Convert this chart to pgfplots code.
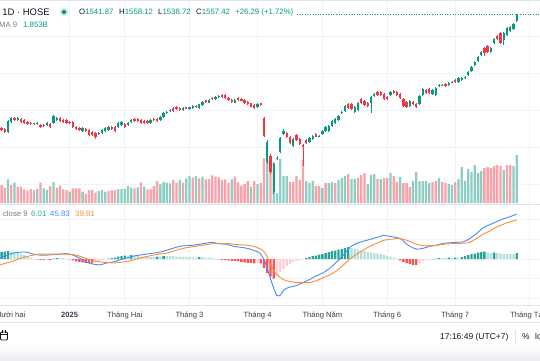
\documentclass[border=0pt]{standalone}
\usepackage{pgfplots}
\pgfplotsset{compat=1.18}
\usepackage{pgfplotstable}
\usepackage{fontspec}
\setmainfont{Liberation Sans}
\definecolor{tvgreen}{RGB}{8,153,129}
\definecolor{tvred}{RGB}{242,54,69}
\definecolor{volg}{RGB}{140,206,195}
\definecolor{volr}{RGB}{248,162,170}
\definecolor{hdg}{RGB}{38,166,154}
\definecolor{hlg}{RGB}{178,223,219}
\definecolor{hlr}{RGB}{255,205,210}
\definecolor{hdr}{RGB}{255,82,82}
\definecolor{macdb}{RGB}{66,142,245}
\definecolor{sigo}{RGB}{255,140,50}
\definecolor{tvgrid}{RGB}{240,243,250}
\definecolor{tvtext}{RGB}{19,23,34}
\definecolor{tvgray}{RGB}{120,123,134}
\definecolor{tvlab}{RGB}{60,63,74}
\definecolor{tvsep}{RGB}{224,227,235}
\pgfplotstableread{
i O H L C V vd h hc
0 1251 1254 1244 1246 18 0 7 0
1 1249 1251 1239 1241 15.3 0 7.5 0
2 1241 1272 1238 1270 23.7 1 8 0
3 1268 1280 1266 1278 18 0 7.5 1
4 1278 1280 1271 1273 20.3 1 7 1
5 1273 1280 1271 1278 16.3 0 6 1
6 1276 1278 1266 1268 16.3 0 5 1
7 1273 1275 1263 1265 13.7 0 4 1
8 1267 1269 1260 1262 12.3 0 3 1
9 1265 1267 1260 1262 14 0 1.5 1
10 1264 1266 1260 1262 13 0 0.5 1
11 1262 1268 1260 1266 14 1 -0.5 3
12 1259 1261 1252 1254 20.3 0 -1 3
13 1259 1261 1254 1256 14.7 1 -1 3
14 1259 1267 1257 1265 13 1 -0.5 2
15 1262 1264 1252 1254 17 0 -1 3
16 1265 1287 1263 1284 21 1 0.5 0
17 1273 1280 1271 1278 15.3 0 1 0
18 1278 1280 1268 1270 17.3 0 1 1
19 1273 1275 1266 1268 13.7 0 1 1
20 1273 1275 1263 1265 13 0 0.5 1
21 1268 1270 1263 1265 11.3 1 -0.5 3
22 1268 1270 1252 1254 14.7 0 -1.5 3
23 1254 1256 1247 1249 14.7 0 -2.5 3
24 1251 1253 1244 1246 14.7 0 -3 3
25 1243 1253 1241 1251 11.3 1 -3.5 3
26 1249 1251 1241 1243 9 0 -4 3
27 1246 1248 1230 1232 13 0 -4 3
28 1241 1243 1230 1232 13 0 -4 3
29 1238 1240 1222 1227 10.3 0 -3.5 2
30 1235 1240 1233 1238 12 1 -2.5 2
31 1238 1248 1236 1246 13 1 -1.5 2
32 1243 1253 1241 1251 11.3 1 -0.5 2
33 1246 1256 1244 1254 12 0 0.5 0
34 1254 1256 1247 1249 13 0 1 0
35 1254 1256 1241 1243 13 0 1.5 0
36 1254 1267 1252 1265 14 1 2.5 0
37 1259 1270 1257 1268 14 1 3 0
38 1262 1264 1252 1254 14 1 3.5 0
39 1259 1267 1257 1265 17 1 3.5 1
40 1268 1275 1266 1273 15.3 1 4 0
41 1276 1278 1268 1270 14.7 0 3.5 1
42 1276 1278 1268 1270 15.7 1 3 1
43 1273 1275 1263 1265 20.7 0 2.5 1
44 1270 1272 1263 1265 16.3 1 2.5 1
45 1270 1272 1263 1265 13.7 0 2 1
46 1265 1275 1263 1273 13.7 0 2 1
47 1276 1278 1271 1273 17 0 2 1
48 1276 1278 1268 1270 22 0 2.5 0
49 1273 1283 1271 1281 18.7 1 2.5 1
50 1281 1294 1279 1292 21 1 3 0
51 1292 1297 1290 1295 20.3 1 3 1
52 1297 1302 1295 1300 19.7 1 3 1
53 1305 1307 1295 1297 23 0 3 1
54 1308 1310 1301 1303 20.3 0 2.5 1
55 1305 1307 1298 1300 23 1 2.5 1
56 1300 1308 1298 1306 20.3 0 2 1
57 1307 1309 1302 1304 24.7 1 2 1
58 1303 1309 1301 1307 27 1 2 1
59 1306 1313 1304 1311 25.3 0 1.5 1
60 1311 1313 1306 1308 27 1 1.5 1
61 1306 1317 1304 1315 24.7 0 2 0
62 1314 1324 1312 1322 26.3 1 2 1
63 1326 1328 1320 1322 24 0 1.5 1
64 1320 1330 1318 1328 24 0 1.5 1
65 1333 1335 1328 1330 27.7 0 1 1
66 1329 1338 1327 1336 26.3 0 0.5 1
67 1334 1340 1332 1338 25.7 0 -0.5 3
68 1340 1342 1332 1334 23 0 -1 3
69 1340 1342 1330 1332 23.7 0 -1 3
70 1332 1334 1324 1326 20.3 0 -1.5 3
71 1328 1330 1320 1322 23.7 1 -2 3
72 1320 1329 1318 1327 26.3 0 -2 3
73 1332 1334 1325 1327 20.7 0 -2.5 3
74 1331 1333 1323 1325 17.3 0 -3 3
75 1327 1329 1316 1318 19 0 -3.5 3
76 1322 1324 1314 1316 22 0 -4 3
77 1318 1320 1307 1309 16.3 1 -4 3
78 1313 1315 1303 1305 22 0 -4.5 3
79 1307 1318 1305 1316 19 1 -4 2
80 1318 1320 1312 1314 20 0 -4.5 3
81 1278 1281 1226 1230 44.7 0 -9 3
82 1160 1218 1155 1214 43 1 -14 3
83 1176 1180 1128 1132 35 0 -18 3
84 1078 1158 1073 1155 41 1 -20 3
85 1168 1175 1164 1171 10 1 -17 2
86 1186 1227 1183 1224 44.5 1 -13 2
87 1235 1248 1232 1243 27 1 -10 2
88 1238 1241 1224 1227 27 1 -7 2
89 1227 1230 1208 1211 21 0 -5 2
90 1203 1224 1200 1222 21 0 -3.5 2
91 1232 1235 1216 1219 27 0 -2 2
92 1222 1225 1205 1208 23 0 -1 2
93 1205 1208 1150 1200 43 0 -0.5 2
94 1219 1222 1208 1211 22 1 1 0
95 1213 1226 1210 1224 20 1 2 0
96 1222 1232 1219 1230 22 1 3 0
97 1235 1237 1226 1228 17 0 3.5 0
98 1228 1232 1226 1230 17 0 4.5 0
99 1235 1245 1233 1243 15 1 5 0
100 1243 1256 1241 1254 20 0 6 0
101 1243 1259 1241 1257 20 1 7 0
102 1257 1272 1255 1270 21 1 8 0
103 1265 1278 1263 1276 20 0 8.5 0
104 1273 1286 1271 1284 23 1 9.5 0
105 1292 1297 1290 1295 25 1 10 0
106 1297 1313 1295 1311 27 1 11 0
107 1316 1318 1303 1305 29 0 12 0
108 1316 1318 1300 1303 24 1 11 1
109 1295 1310 1293 1308 24 1 10 1
110 1300 1321 1298 1319 25 0 9.5 1
111 1330 1332 1316 1319 28 0 8.5 1
112 1324 1326 1311 1314 30 0 8 1
113 1319 1322 1308 1311 19 1 7 1
114 1319 1337 1292 1335 28 1 6.5 1
115 1338 1345 1336 1343 29 1 6 1
116 1349 1352 1338 1341 24 0 5.5 1
117 1349 1351 1339 1341 24 1 5 1
118 1343 1346 1328 1330 25 0 4 1
119 1335 1337 1328 1330 25 0 3 1
120 1341 1351 1339 1349 30 1 2.5 1
121 1351 1354 1344 1346 27 0 1.5 1
122 1349 1351 1339 1341 21 0 0.5 1
123 1343 1345 1330 1332 26 1 -1.5 3
124 1330 1332 1308 1311 20 0 -3 3
125 1322 1324 1305 1308 20 0 -4 3
126 1311 1326 1308 1324 16 0 -5 3
127 1322 1324 1314 1316 22 1 -6 3
128 1316 1319 1305 1308 31 1 -6 3
129 1316 1340 1313 1338 22 1 -4 2
130 1341 1359 1338 1357 22 1 -2.5 2
131 1354 1357 1343 1346 22 1 -1.5 2
132 1357 1359 1343 1346 20 1 -1 2
133 1343 1356 1341 1354 21 0 -0.5 2
134 1341 1362 1338 1359 22 0 0.5 0
135 1366 1371 1363 1368 25 1 1 0
136 1366 1370 1364 1368 21 0 1 1
137 1370 1372 1363 1365 20 0 1 1
138 1368 1375 1366 1373 19 1 1.5 0
139 1374 1378 1372 1376 18 1 1 1
140 1381 1383 1374 1376 21 0 1.5 0
141 1376 1388 1374 1386 24 1 1.5 1
142 1381 1388 1379 1386 36 1 2 0
143 1387 1391 1385 1389 22 1 3 0
144 1395 1405 1393 1403 34 1 4 0
145 1405 1418 1403 1416 31 1 5 0
146 1422 1432 1419 1430 38 1 5.5 0
147 1432 1445 1430 1443 30 1 6.5 0
148 1449 1459 1446 1457 32 1 7 0
149 1468 1470 1446 1454 35 0 7.5 0
150 1473 1476 1455 1457 36 0 6.5 1
151 1457 1470 1455 1468 35 0 6 1
152 1481 1494 1478 1492 37 0 6.5 0
153 1500 1502 1490 1492 38 0 6 1
154 1508 1510 1479 1481 37 0 5.5 1
155 1489 1510 1476 1508 33 1 5 1
156 1503 1524 1500 1522 38 0 5 1
157 1514 1526 1512 1524 38 0 5 1
158 1519 1535 1517 1532 37 1 5 1
159 1541.87 1558.12 1538.72 1557.42 48 1 6 0
}\data

\pgfplotsset{
  tvpane/.style={scale only axis, width=540bp, xmin=-0.494, xmax=166.17, anchor=south west},
  tvgridax/.style={axis line style={draw=none}, major tick length=0pt,
    xtick={-1,21,38,58,79,99,119,140,163}, yticklabels={},
    grid=major, grid style={tvgrid, line width=0.8bp}},
  body/.style={draw=none, mark=none, error bars/.cd, y dir=plus, y explicit, error mark=none, error bar style={line width=2.3bp, draw=#1, solid}},
  wick/.style={draw=none, mark=none, error bars/.cd, y dir=plus, y explicit, error mark=none, error bar style={line width=0.8bp, draw=#1, solid}},
}

\begin{document}
\begin{tikzpicture}[x=1bp,y=1bp]
\path (0,0) rectangle (540,360);
\begin{pgfinterruptboundingbox}
\clip (0,0) rectangle (540,360);
\fill[white] (0,0) rectangle (540,360);
\shade[top color=white, bottom color={rgb,255:red,236;green,237;blue,240}] (0,0) rectangle (540,14);

% price pane grid
\begin{axis}[tvpane, at={(0bp,156bp)}, height=204bp, ymin=1045.95, ymax=1597.3, tvgridax,
  ytick={1100,1200,1300,1400,1500}, xticklabels={}]
\addplot[draw=none] coordinates {(0,1300)};
\end{axis}

% volume
\begin{axis}[tvpane, at={(0bp,156bp)}, height=204bp, ymin=-1, ymax=203, hide axis]
\addplot[ybar, bar width=2.3bp, bar shift=0pt, fill=volg, draw=none] table[x=i, y expr={\thisrow{vd}==1 ? \thisrow{V} : nan}] {\data};
\addplot[ybar, bar width=2.3bp, bar shift=0pt, fill=volr, draw=none] table[x=i, y expr={\thisrow{vd}==0 ? \thisrow{V} : nan}] {\data};
\end{axis}

% candles
\begin{axis}[tvpane, at={(0bp,156bp)}, height=204bp, ymin=1045.95, ymax=1597.3, hide axis]
\addplot[tvgreen, dotted, line width=0.6bp] coordinates {(91.2,1557.42) (166.1,1557.42)};
\addplot[wick=tvgreen] table[x=i, y expr={\thisrow{C}>=\thisrow{O} ? \thisrow{L} : nan}, y error plus expr={\thisrow{H}-\thisrow{L}}] {\data};
\addplot[wick=tvred] table[x=i, y expr={\thisrow{C}<\thisrow{O} ? \thisrow{L} : nan}, y error plus expr={\thisrow{H}-\thisrow{L}}] {\data};
\addplot[body=tvgreen] table[x=i, y expr={\thisrow{C}>=\thisrow{O} ? \thisrow{O} : nan}, y error plus expr={max(\thisrow{C}-\thisrow{O},1.2)}] {\data};
\addplot[body=tvred] table[x=i, y expr={\thisrow{C}<\thisrow{O} ? \thisrow{C} : nan}, y error plus expr={max(\thisrow{O}-\thisrow{C},1.2)}] {\data};
\end{axis}

% MACD pane
\begin{axis}[tvpane, at={(0bp,55bp)}, height=100bp, ymin=-46.84, ymax=54.99, tvgridax,
  ytick={-40,-20,0,20,40},
  xticklabels={Tháng Mười hai,\textbf{2025},Tháng Hai,Tháng 3,Tháng 4,Tháng Năm,Tháng 6,Tháng 7,Tháng Tám},
  xticklabel style={font=\fontsize{7.6bp}{9bp}\selectfont, text=tvlab, anchor=base, yshift=-12.5bp}]
\addplot[ybar, bar width=2.3bp, bar shift=0pt, fill=hdg, draw=none] table[x=i, y expr={\thisrow{hc}==0 ? \thisrow{h} : nan}] {\data};
\addplot[ybar, bar width=2.3bp, bar shift=0pt, fill=hlg, draw=none] table[x=i, y expr={\thisrow{hc}==1 ? \thisrow{h} : nan}] {\data};
\addplot[ybar, bar width=2.3bp, bar shift=0pt, fill=hlr, draw=none] table[x=i, y expr={\thisrow{hc}==2 ? \thisrow{h} : nan}] {\data};
\addplot[ybar, bar width=2.3bp, bar shift=0pt, fill=hdr, draw=none] table[x=i, y expr={\thisrow{hc}==3 ? \thisrow{h} : nan}] {\data};
\addplot[macdb, line width=0.9bp, smooth, tension=0.4] coordinates {
(-0.5,1) (1.6,4) (3.6,6) (5.7,7) (7.7,7) (9.8,5) (11.8,4) (13.9,4) (16,4.5) (18,5) (20,5.5) (22,4) (24,1) (26,-3) (28,-5) (30.4,-6) (32.4,-4) (34.5,-3) (36.5,-1) (38.6,1) (40.7,3) (42.7,4) (44.8,5) (46.8,6) (48.9,7) (51,9) (53,11) (55,13) (57,13.5) (59,14) (61,15) (63,16) (65,17) (67,15.5) (69.5,15) (71.5,13) (73.6,12) (75.6,11) (77.7,9) (79.7,6) (81.3,-3) (82.8,-18) (83.9,-29) (84.9,-37) (86,-37) (87,-32) (88.5,-29) (91,-27) (93,-24) (95,-21) (97.2,-17) (99.3,-14) (101.4,-9) (103.4,-3) (105.5,4) (107.5,12) (109.6,16) (111.6,18) (113.7,20) (115.8,22) (117.8,24) (119.9,23) (121.9,22) (123.5,20) (125,15) (126.6,12) (128.1,10) (130.2,11) (132.2,13) (134.3,14) (136.3,16) (138.4,16.5) (140.5,17) (142.5,17.5) (144.6,21) (146.6,26) (148.7,32) (150.7,35) (152.8,38) (154.9,41) (156.9,43) (159,45.83)};
\addplot[sigo, line width=0.9bp, smooth, tension=0.4] coordinates {
(-0.5,-6) (1.6,-4) (3.6,-2) (5.7,0.5) (7.7,2.5) (9.8,4) (11.8,5) (13.9,5) (16,5) (18,5) (20,5) (22,4.5) (24,3) (26,0.5) (28,-1.5) (30.4,-3) (32.4,-3.5) (34.5,-4) (36.5,-3.5) (38.6,-2.5) (40.7,-1) (42.7,1) (44.8,2.5) (46.8,4) (48.9,5) (51,6) (53,8) (55,10) (57,11.5) (59,12.5) (61,13.5) (63,14.5) (65,15.5) (67,16) (69.5,16) (71.5,15) (73.6,14.5) (75.6,14) (77.7,13) (79.7,10.5) (81.3,6.5) (82.8,-4) (83.9,-11) (84.9,-16) (87,-21) (89,-23) (91,-24) (93,-24) (95,-24) (97.2,-22) (99.3,-19) (101.4,-16) (103.4,-12) (105.5,-6) (107.5,0) (109.6,5) (111.6,9) (113.7,13) (115.8,16) (117.8,19) (119.9,20) (121.9,21) (124,20) (126,18) (128.1,15) (130.2,13.5) (132.2,13.5) (134.3,14) (136.3,15) (138.4,15.5) (140.5,16) (142.5,16) (144.6,17) (146.6,21) (148.7,25.5) (150.7,28.5) (152.8,32.5) (154.9,35.5) (156.9,38) (159,39.81)};
\end{axis}

% first month label (its tick lies just left of the visible range)
\node[anchor=base, inner sep=0, font=\fontsize{7.6bp}{9bp}\selectfont, text=tvlab] at (-1.6,42.5) {Tháng Mười hai};

% separators
\draw[tvsep, line width=0.8bp] (0,155.5) -- (540,155.5);
\draw[tvsep, line width=0.8bp] (0,54.5) -- (540,54.5);
\draw[tvsep, line width=0.8bp] (0,37.5) -- (540,37.5);
\draw[tvsep, line width=1bp] (0,359.5) -- (540,359.5);

% header
\node[anchor=base east, inner sep=0, font=\fontsize{9.5bp}{11bp}\selectfont, text=tvtext] at (50,344.6) {1D · HOSE};
\fill[tvgreen, opacity=0.2] (64,348) circle (4.3);
\fill[tvgreen] (64,348) circle (2.1);
\begin{scope}[every node/.style={anchor=base west, inner sep=0, font=\fontsize{7.8bp}{9bp}\selectfont}]
\node at (79,345.2) {\textcolor{tvtext}{O}\textcolor{tvgreen}{1541.87}};
\node at (119,345.2) {\textcolor{tvtext}{H}\textcolor{tvgreen}{1558.12}};
\node at (158,345.2) {\textcolor{tvtext}{L}\textcolor{tvgreen}{1538.72}};
\node at (196,345.2) {\textcolor{tvtext}{C}\textcolor{tvgreen}{1557.42}};
\node[text=tvgreen] at (235,345.2) {+26.29 (+1.72\%)};
\node[anchor=base east, text=tvgray] at (17.5,332.3) {MA 9};
\node[text=tvgreen] at (23,332.3) {1.853B};
\node[anchor=base east, text=tvgray] at (28,143.2) {close 9};
\node[text=hdg] at (31,143.2) {6.01};
\node[text=macdb] at (50,143.2) {45.83};
\node[text=sigo] at (75,143.2) {39.81};
\end{scope}

% bottom bar
\draw[tvtext, line width=0.8bp, rounded corners=1bp] (0.5,20) rectangle (7.5,28);
\draw[tvtext, line width=0.8bp] (0.5,26) -- (7.5,26) (2.5,27) -- (2.5,30) (5.5,27) -- (5.5,30);
\node[anchor=base west, inner sep=0, font=\fontsize{8.5bp}{10bp}\selectfont, text=tvtext] at (440,21) {17:16:49 (UTC+7)};
\draw[tvsep, line width=1bp] (515.5,17) -- (515.5,30);
\node[anchor=base west, inner sep=0, font=\fontsize{8.5bp}{10bp}\selectfont, text=tvtext] at (522,21) {\%};
\node[anchor=base west, inner sep=0, font=\fontsize{8.5bp}{10bp}\selectfont, text=tvtext] at (535,21) {log};
\end{pgfinterruptboundingbox}
\end{tikzpicture}
\end{document}
